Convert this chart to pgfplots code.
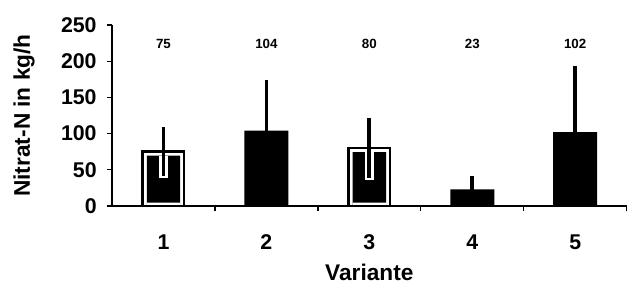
\documentclass[border=0pt]{standalone}
\usepackage{fontspec}
\setmainfont{Liberation Sans}
\usepackage{pgfplots}
\pgfplotsset{compat=1.18}
\begin{document}
\begin{tikzpicture}
\begin{axis}[
  at={(0,0)}, anchor=south west,
  scale only axis, width=386pt, height=135.75pt,
  xmin=0.5, xmax=5.5, ymin=0, ymax=250,
  clip=false,
  axis x line*=bottom, axis y line*=left,
  axis line style={line width=1.5pt, black},
  xtick={1,2,3,4,5},
  major x tick style={draw=none},
  minor xtick={1.5,2.5,3.5,4.5,5.5},
  ytick={0,50,100,150,200,250},
  tick align=outside,
  tick style={line width=1pt, black},
  major tick length=4pt, minor tick length=4pt,
  /pgf/number format/assume math mode=true,
  ticklabel style={font=\bfseries\fontsize{16}{16}\selectfont},
  xticklabel style={anchor=center, yshift=-23pt},
  yticklabel style={anchor=east, xshift=-4pt},
  xlabel={Variante}, ylabel={Nitrat-N in kg/h},
  label style={font=\bfseries\fontsize{17}{17}\selectfont},
  x label style={at={(axis description cs:0.5,-0.365)}, anchor=center},
  y label style={at={(axis description cs:-0.171,0.5)}, anchor=center},
]
% dark bars
\addplot[ybar, bar width=33pt, bar shift=0pt, fill=black, draw=none]
  coordinates {(2,104) (4,23) (5,102)};
% outlined bars (white gap, dark inner)
\addplot[ybar, bar width=31pt, bar shift=0pt, fill=white, draw=black, line width=2pt]
  coordinates {(1,75) (3,80)};
\addplot[ybar, bar width=25pt, bar shift=0pt, fill=black, draw=none]
  coordinates {(1,69.5) (3,74.5)};
\addplot[ybar, bar width=25pt, bar shift=0pt, fill=white, draw=none]
  coordinates {(1,4.5) (3,4.5)};
\addplot[ybar, bar width=31pt, bar shift=0pt, fill=none, draw=black, line width=2pt]
  coordinates {(1,75) (3,80)};
% white halo of the lower error bars inside the outlined bars
\addplot[draw=none, mark=none, error bars/.cd, y dir=minus, y explicit,
  error mark=none, error bar style={draw=white, line width=7pt}]
  coordinates {(1,69.5) -= (0,31.5) (3,74.5) -= (0,38)};
% error bars
\addplot[draw=none, mark=none, error bars/.cd, y dir=both, y explicit,
  error mark=none, error bar style={draw=black, line width=2.8pt}]
  coordinates {(1,75) +- (0,34) (2,104) +- (0,70) (3,80) +- (0,41) (4,23) +- (0,19) (5,102) +- (0,91)};
% value labels
\addplot[draw=none, mark=none, nodes near coords, point meta=explicit symbolic,
  nodes near coords style={font=\bfseries\fontsize{10}{10}\selectfont, anchor=center}]
  coordinates {(1,224)[75] (2,224)[104] (3,224)[80] (4,224)[23] (5,224)[102]};
\end{axis}
\pgfresetboundingbox
\useasboundingbox (-84pt,-66pt) rectangle (396.75pt,154.5pt);
\end{tikzpicture}
\end{document}
